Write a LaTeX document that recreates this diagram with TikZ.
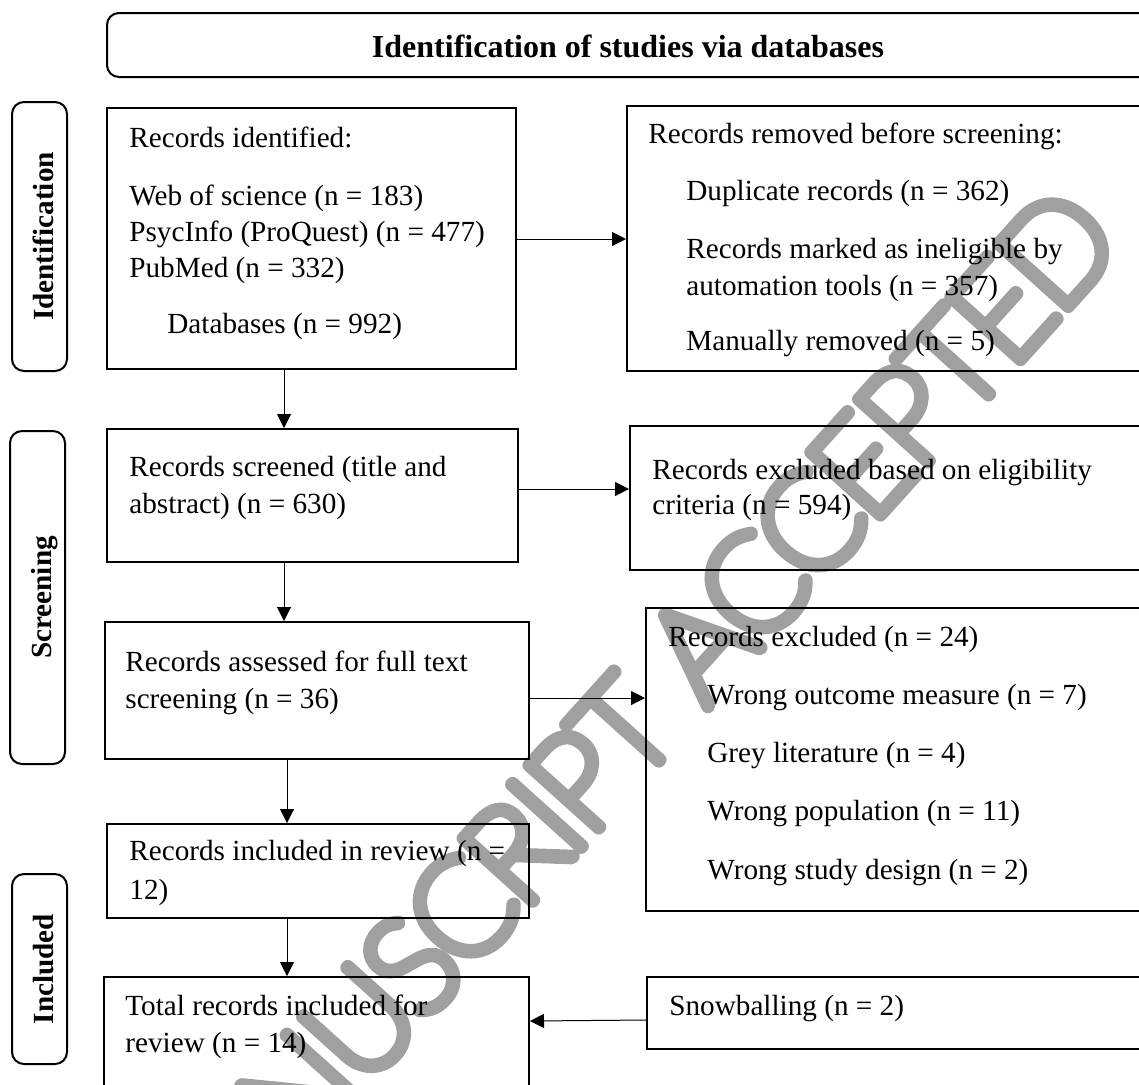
\documentclass[tikz,border=0pt]{standalone}
\usepackage{fontspec}
\setmainfont{Liberation Serif}
\IfFontExistsTF{Lato Hairline}{\newfontfamily\wmfont[LetterSpace=-5]{Lato Hairline}}{%
 \IfFontExistsTF{Poppins Thin}{\newfontfamily\wmfont[LetterSpace=-5]{Poppins Thin}}{%
  \IfFontExistsTF{DejaVu Sans ExtraLight}{\newfontfamily\wmfont[LetterSpace=-5]{DejaVu Sans ExtraLight}}{%
   \newfontfamily\wmfont{Liberation Sans}}}}
\usetikzlibrary{arrows.meta,fit}
\definecolor{wmgray}{RGB}{160,160,160}
\newcommand\stroketext[1]{\special{pdf:literal direct 2 Tr 6.5 w 1 j 1 J}#1}
\begin{document}
\begin{tikzpicture}[x=0.5pt,y=-0.5pt,
  box/.style={draw, line width=1pt, inner sep=0pt},
  phase/.style={draw, line width=1pt, rounded corners=6pt, inner sep=0pt},
  txt/.style={anchor=base west, inner sep=0pt, font=\fontsize{14.6pt}{18pt}\selectfont},
  ptxt/.style={rotate=90, anchor=base, inner sep=0pt, font=\bfseries\fontsize{14.6pt}{18pt}\selectfont},
  arr/.style={-{Triangle[length=7pt,width=7pt]}, line width=0.5pt}]
\useasboundingbox (0,0) rectangle (1139,1084);
\clip (0,0) rectangle (1139,1084);
% watermark
\node[rotate=48, text=wmgray, font=\wmfont\fontsize{67pt}{72pt}\selectfont, inner sep=0pt] (wm) at (614,741) {\stroketext{MANUSCRIPT ACCEPTED}};
% header
\node[phase, fit={(107,13) (1170,77)}] (hdr) {};
\node[font=\bfseries\fontsize{16pt}{19pt}\selectfont, anchor=base, inner sep=0pt] (title) at (628,57) {Identification of studies via databases};
% phase labels
\node[phase, fit={(12,102) (67,371)}] (pid) {};
\node[ptxt] (pidt) at (53,236.5) {Identification};
\node[phase, fit={(10,431) (65,764)}] (psc) {};
\node[ptxt] (psct) at (51,597.5) {Screening};
\node[phase, fit={(12,874) (67,1064)}] (pin) {};
\node[ptxt] (pint) at (53,969) {Included};
% boxes
\node[box, fit={(107,108) (516,369)}] (b1) {};
\node[box, fit={(107,429) (518,562)}] (b2) {};
\node[box, fit={(105,622) (529,759)}] (b3) {};
\node[box, fit={(107,824) (529,918)}] (b4) {};
\node[box, fit={(104,977) (529,1120)}] (b5) {};
\node[box, fit={(627,106) (1170,371)}] (r1) {};
\node[box, fit={(630,426) (1170,570)}] (r2) {};
\node[box, fit={(646,608) (1170,911)}] (r3) {};
\node[box, fit={(647,977) (1170,1049)}] (r4) {};
% texts left
\node[txt] (t11) at (129,147) {Records identified:};
\node[txt] (t12) at (129,205) {Web of science (n = 183)};
\node[txt] (t13) at (129,241) {PsycInfo (ProQuest) (n = 477)};
\node[txt] (t14) at (129,277) {PubMed (n = 332)};
\node[txt] (t15) at (167,333) {Databases (n = 992)};
\node[txt] (t21) at (129,476) {Records screened (title and};
\node[txt] (t22) at (129,513) {abstract) (n = 630)};
\node[txt] (t31) at (125,671) {Records assessed for full text};
\node[txt] (t32) at (125,708) {screening (n = 36)};
\node[txt] (t41) at (129,860) {Records included in review (n =};
\node[txt] (t42) at (129,899) {12)};
\node[txt] (t51) at (125,1015) {Total records included for};
\node[txt] (t52) at (125,1052) {review (n = 14)};
% texts right
\node[txt] (u11) at (648,143) {Records removed before screening:};
\node[txt] (u12) at (686,200) {Duplicate records (n = 362)};
\node[txt] (u13) at (686,258) {Records marked as ineligible by};
\node[txt] (u14) at (686,295) {automation tools (n = 357)};
\node[txt] (u15) at (686,350) {Manually removed (n = 5)};
\node[txt] (u21) at (652,479) {Records excluded based on eligibility};
\node[txt] (u22) at (652,514) {criteria (n = 594)};
\node[txt] (u31) at (668,646) {Records excluded (n = 24)};
\node[txt] (u32) at (707,704) {Wrong outcome measure (n = 7)};
\node[txt] (u33) at (707,762) {Grey literature (n = 4)};
\node[txt] (u34) at (707,820) {Wrong population (n = 11)};
\node[txt] (u35) at (707,879) {Wrong study design (n = 2)};
\node[txt] (u41) at (669,1015) {Snowballing (n = 2)};
% connectors
\draw[arr] (b1.east |- 0,239) -- (r1.west |- 0,239);
\draw[arr] (b2.east |- 0,489) -- (r2.west |- 0,489);
\draw[arr] (b3.east |- 0,698) -- (r3.west |- 0,698);
\draw[arr] (r4.west |- 0,1020) -- (b5.east |- 0,1021);
\draw[arr] (284,0 |- b1.south) -- (284,0 |- b2.north);
\draw[arr] (284,0 |- b2.south) -- (284,0 |- b3.north);
\draw[arr] (287,0 |- b3.south) -- (287,0 |- b4.north);
\draw[arr] (287,0 |- b4.south) -- (287,0 |- b5.north);
\end{tikzpicture}
\end{document}
